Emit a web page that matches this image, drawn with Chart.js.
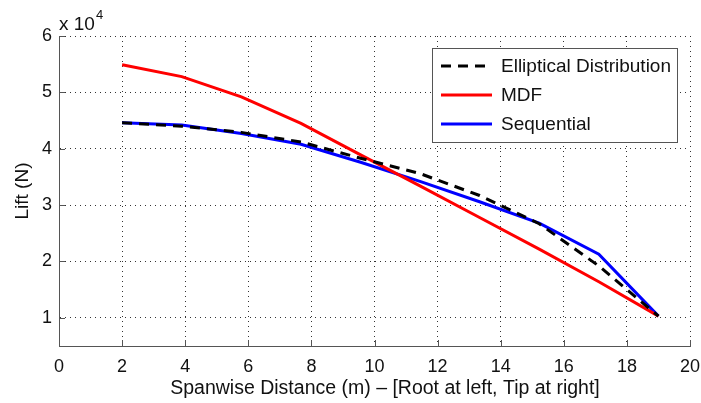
<!DOCTYPE html>
<html>
<head>
<meta charset="utf-8">
<script src="https://cdn.jsdelivr.net/npm/chart.js@4.4.1/dist/chart.umd.min.js"></script>
<style>
  body { margin: 0; background: #fff; }
  #wrap { width: 701px; height: 403px; }
</style>
</head>
<body>
<div id="wrap"><canvas id="myChart" width="701" height="403"></canvas></div>
<script>
// spanwise stations (m) and lift (N)
var spanX = [2, 3.89, 5.78, 7.67, 9.56, 11.44, 13.33, 15.22, 17.11, 19];
var ellipticalLift = [44600, 44000, 42900, 41200, 38300, 35600, 31700, 26700, 19200, 10300];
var mdfLift = [54900, 52800, 49200, 44500, 38900, 33400, 27800, 22200, 16400, 10300];
var sequentialLift = [44600, 44200, 42700, 40800, 37600, 34200, 30600, 26800, 21300, 10300];
var xTicks = [0, 2, 4, 6, 8, 10, 12, 14, 16, 18, 20];
var yTicks = [1, 2, 3, 4, 5, 6];
var xTitle = 'Spanwise Distance (m) \u2013 [Root at left, Tip at right]';

var FONT = "'Liberation Sans', Arial, sans-serif";

function pts(ys) {
  return spanX.map(function (x, i) { return { x: x, y: ys[i] }; });
}

// inward tick marks, x title, the "x 10^4" label and the boxed legend
var extras = {
  id: 'extras',
  afterDraw: function (chart) {
    var ctx = chart.ctx;
    var xs = chart.scales.x, ys = chart.scales.y;
    var a = chart.chartArea;
    ctx.save();
    ctx.strokeStyle = '#555';
    ctx.lineWidth = 1;
    ctx.beginPath();
    xTicks.forEach(function (v) {
      var px = Math.round(xs.getPixelForValue(v)) + 0.5;
      ctx.moveTo(px, a.bottom);
      ctx.lineTo(px, a.bottom - 6);
    });
    yTicks.forEach(function (v) {
      var py = Math.round(ys.getPixelForValue(v * 10000)) + 0.5;
      ctx.moveTo(a.left, py);
      ctx.lineTo(a.left + 6, py);
    });
    ctx.stroke();

    ctx.fillStyle = '#111';
    ctx.textAlign = 'center';
    ctx.textBaseline = 'middle';
    ctx.font = '19.5px ' + FONT;
    ctx.fillText(xTitle, 385, 389);

    ctx.textAlign = 'left';
    ctx.textBaseline = 'alphabetic';
    ctx.font = '19px ' + FONT;
    ctx.fillText('x 10', a.left, 30);
    var w = ctx.measureText('x 10').width;
    ctx.font = '13px ' + FONT;
    ctx.fillText('4', a.left + w + 1, 19);

    // legend
    var bx = 432, by = 48, bw = 245, bh = 94;
    ctx.fillStyle = '#fff';
    ctx.fillRect(bx, by, bw, bh);
    ctx.strokeStyle = '#555';
    ctx.strokeRect(bx + 0.5, by + 0.5, bw, bh);
    ctx.font = '19px ' + FONT;
    ctx.textBaseline = 'middle';
    chart.data.datasets.forEach(function (ds, i) {
      var ry = 66 + i * 29;
      ctx.beginPath();
      ctx.strokeStyle = ds.borderColor;
      ctx.lineWidth = ds.borderWidth;
      ctx.setLineDash(ds.borderDash || []);
      ctx.moveTo(441, ry);
      ctx.lineTo(492, ry);
      ctx.stroke();
      ctx.setLineDash([]);
      ctx.fillStyle = '#111';
      ctx.fillText(ds.label, 501, ry + 1);
    });
    ctx.restore();
  }
};

var ctx = document.getElementById('myChart').getContext('2d');
var myChart = new Chart(ctx, {
  type: 'line',
  data: {
    datasets: [{
      label: 'Elliptical Distribution',
      data: pts(ellipticalLift),
      borderColor: '#000',
      borderWidth: 3,
      borderDash: [10, 7],
      pointRadius: 0,
      fill: false
    }, {
      label: 'MDF',
      data: pts(mdfLift),
      borderColor: '#ff0000',
      borderWidth: 3,
      pointRadius: 0,
      fill: false
    }, {
      label: 'Sequential',
      data: pts(sequentialLift),
      borderColor: '#0000ff',
      borderWidth: 3,
      pointRadius: 0,
      fill: false
    }]
  },
  options: {
    responsive: false,
    animation: false,
    layout: { padding: { top: 36, right: 11, left: 0, bottom: 0 } },
    plugins: { legend: { display: false }, tooltip: { enabled: false } },
    scales: {
      x: {
        type: 'linear',
        min: 0,
        max: 20,
        afterBuildTicks: function (scale) {
          scale.ticks = xTicks.map(function (v) { return { value: v }; });
        },
        afterFit: function (scale) {
          scale.height = 57;
          scale.paddingLeft = 0;
          scale.paddingRight = 0;
        },
        grid: { color: '#333', lineWidth: 1, drawTicks: false },
        border: { display: true, color: '#555', width: 1, dash: [1, 4] },
        ticks: { padding: 10, color: '#111', font: { family: FONT, size: 18 } },
        title: { display: false }
      },
      y: {
        type: 'linear',
        min: 5000,
        max: 60000,
        afterBuildTicks: function (scale) {
          scale.ticks = yTicks.map(function (v) { return { value: v * 10000 }; });
        },
        afterFit: function (scale) { scale.width = 59; },
        grid: { color: '#333', lineWidth: 1, drawTicks: false },
        border: { display: true, color: '#555', width: 1, dash: [1, 4] },
        ticks: {
          padding: 7,
          color: '#111',
          font: { family: FONT, size: 18 },
          callback: function (v) { return v / 10000; }
        },
        title: {
          display: true,
          text: 'Lift (N)',
          color: '#111',
          font: { family: FONT, size: 19 },
          padding: { top: 11, bottom: 0 }
        }
      }
    }
  },
  plugins: [extras]
});
</script>
</body>
</html>
